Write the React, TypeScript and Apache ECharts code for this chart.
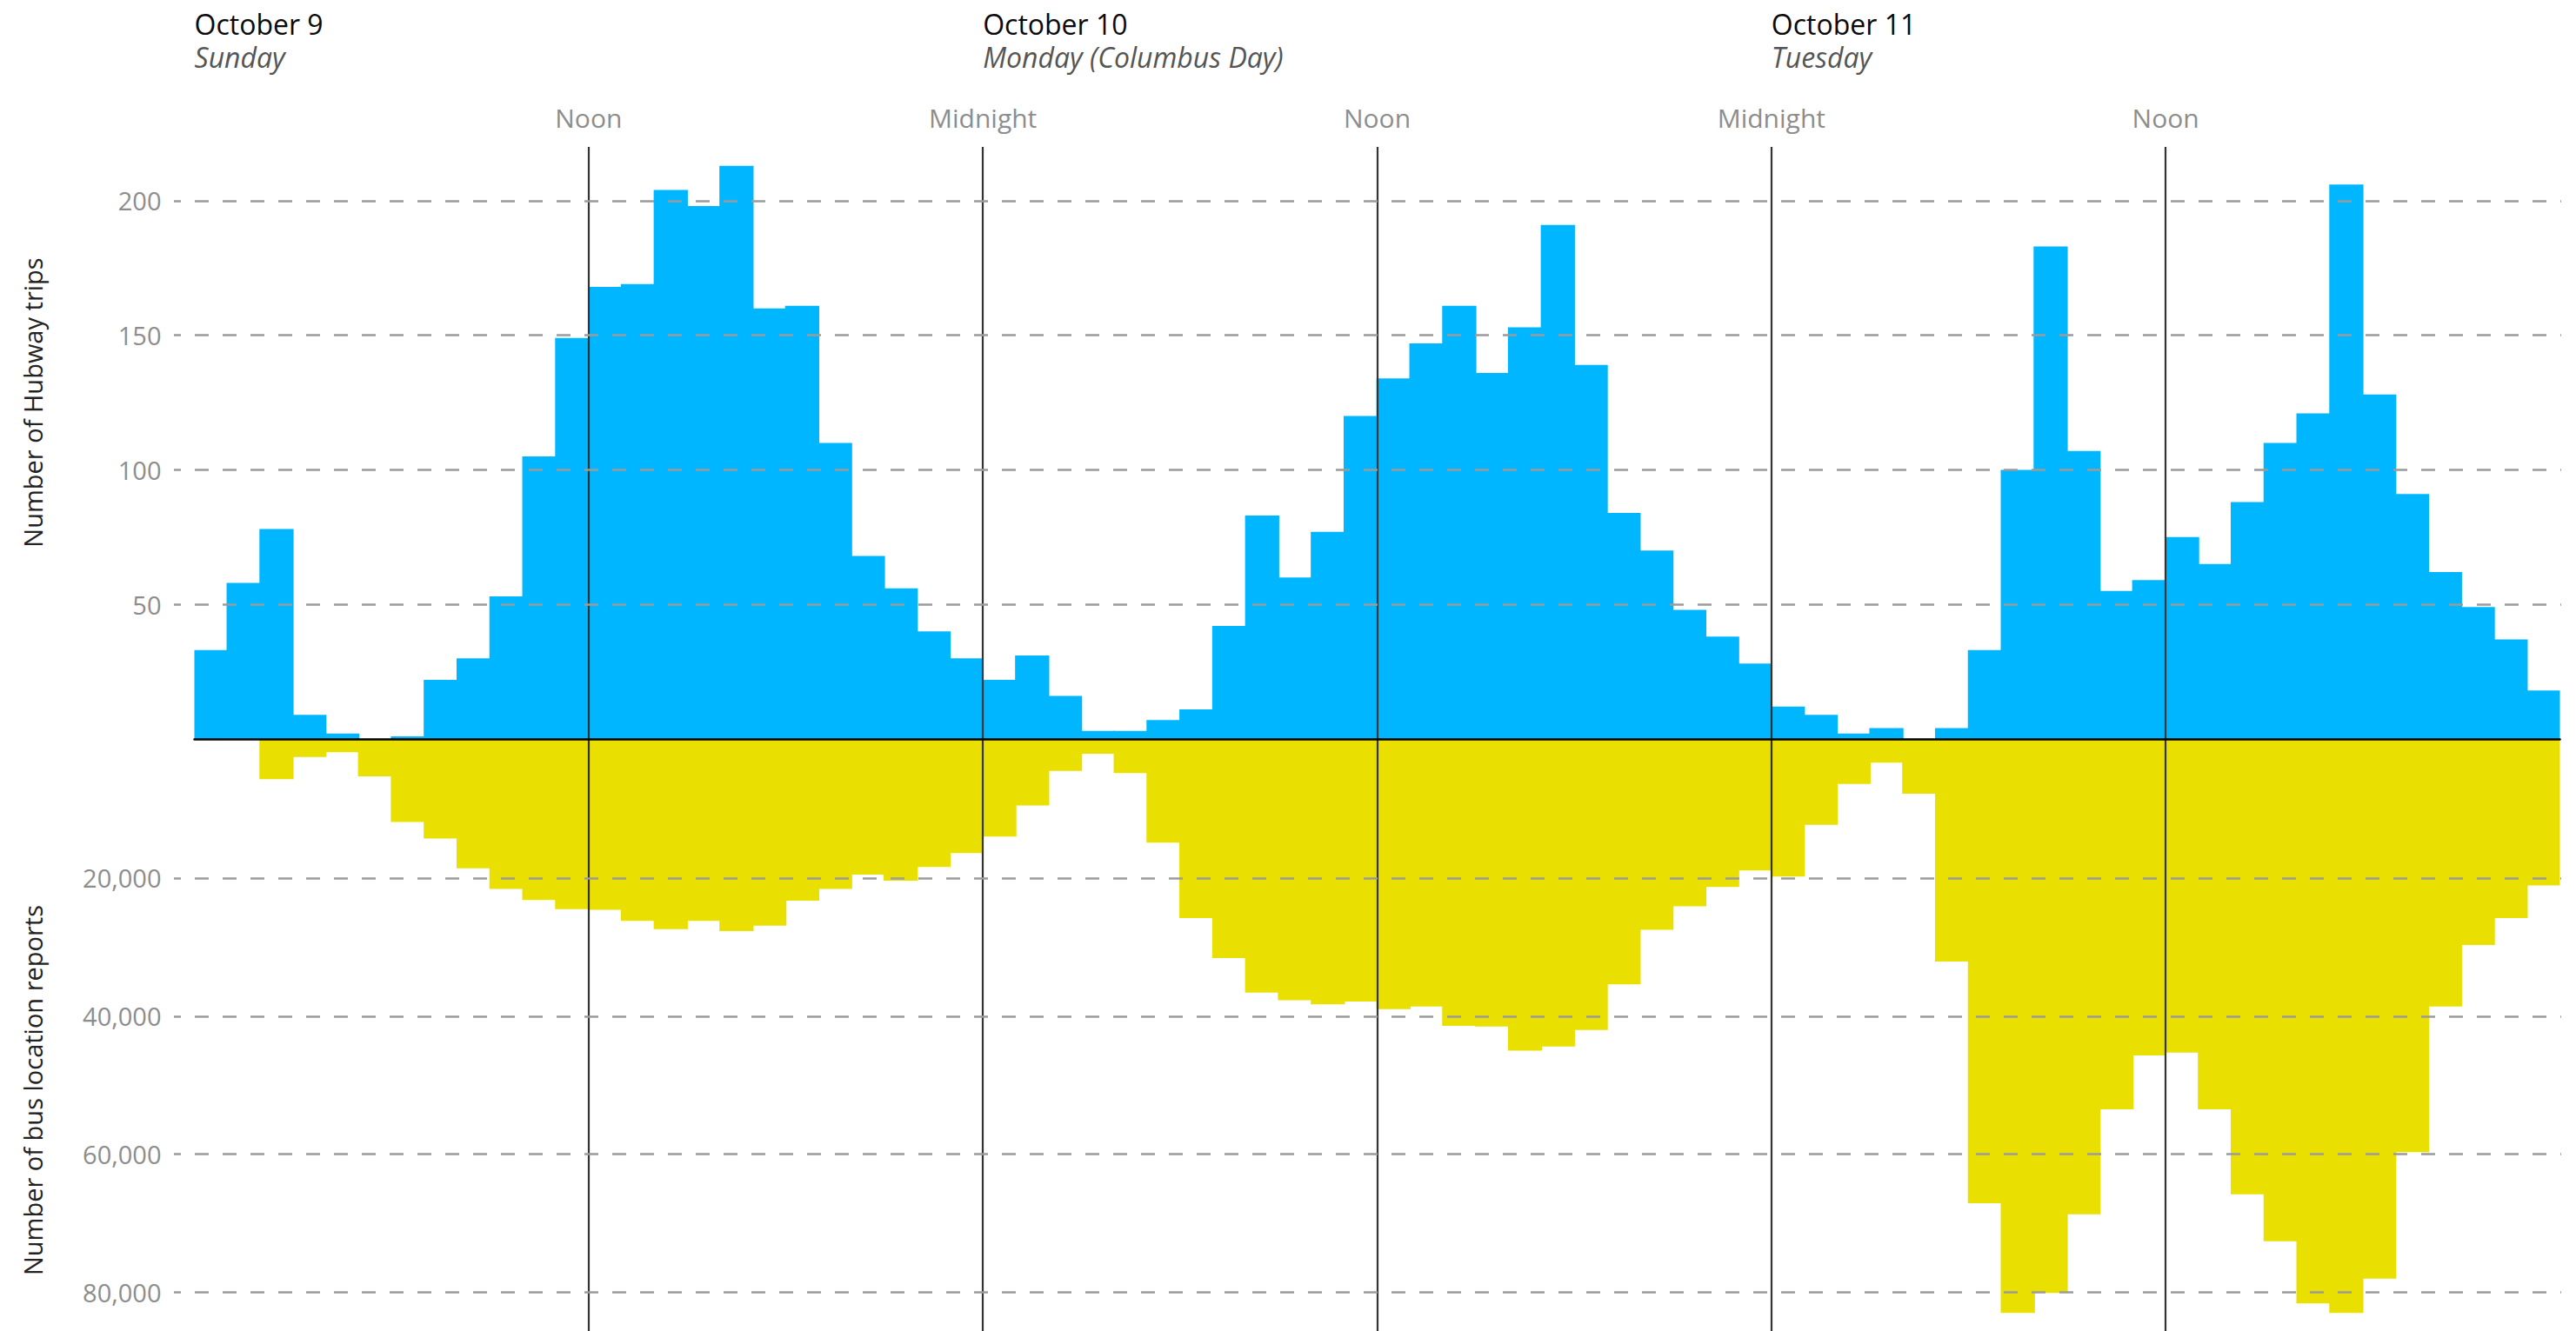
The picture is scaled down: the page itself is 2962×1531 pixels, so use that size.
import React, { useEffect, useRef } from 'react';
import * as echarts from 'echarts';

// ---------- data ----------
const days = ['October 9', 'October 10', 'October 11'];
const dayNotes = ['Sunday', 'Monday (Columbus Day)', 'Tuesday'];
const timeLabels = ['', 'Noon', 'Midnight', 'Noon', 'Midnight', 'Noon', ''];
const hours = days.flatMap((d) => Array.from({ length: 24 }, (_, h) => `${d} ${h}:00`));

const hubwayTrips = [
  33, 58, 78, 9, 2, 0, 1, 22, 30, 53, 105, 149, 168, 169, 204, 198, 213, 160, 161, 110, 68, 56, 40, 30,
  22, 31, 16, 3, 3, 7, 11, 42, 83, 60, 77, 120, 134, 147, 161, 136, 153, 191, 139, 84, 70, 48, 38, 28,
  12, 9, 2, 4, 0, 4, 33, 100, 183, 107, 55, 59, 75, 65, 88, 110, 121, 206, 128, 91, 62, 49, 37, 18,
];

const busReports = [
  0, 0, 5700, 2500, 1800, 5300, 11900, 14300, 18600, 21600, 23200, 24500, 24600, 26200, 27400, 26200, 27700, 26900, 23300, 21600, 19500, 20400, 18400, 16400,
  14000, 9500, 4500, 2000, 4800, 14900, 25800, 31600, 36600, 37700, 38300, 37900, 39000, 38600, 41400, 41500, 45000, 44400, 42000, 35400, 27500, 24100, 21300, 18900,
  19800, 12300, 6400, 3300, 7800, 32100, 67100, 83000, 80100, 68700, 53500, 45700, 45300, 53500, 65800, 72600, 81600, 83000, 78000, 59700, 38600, 29700, 25800, 21100,
];

const hubwayTicks = [50, 100, 150, 200];
const busTicks = [20000, 40000, 60000, 80000];

// ---------- styles ----------
const FONT = 'Open Sans';
const BLUE = '#00b6ff';
const YELLOW = '#e9df00';
const GREY_LABEL = '#8d8d8d';
const L = 223.5;
const GW = 2720;

const dashStyle = { type: [16, 16], dashOffset: 8, color: '#9b9b9b', width: 2.5 };
const gridLines = (ticks: number[]) => ({
  silent: true,
  symbol: ['none', 'none'],
  label: { show: false },
  emphasis: { disabled: true },
  lineStyle: dashStyle,
  data: ticks.map((v) => [{ x: 200, yAxis: v }, { x: 2945, yAxis: v }]),
});

const vLine = {
  show: true,
  showMinLine: false,
  showMaxLine: false,
  lineStyle: { color: '#333333', width: 2.2, type: 'solid' },
};

const hidden = {
  axisLine: { show: false },
  axisTick: { show: false },
};

export default function App() {
  const ref = useRef<HTMLDivElement>(null);
  useEffect(() => {
    if (!ref.current) return;
    const chart = echarts.init(ref.current, null, { renderer: 'svg' });
    const option: any = {
      animation: false,
      backgroundColor: '#ffffff',
      textStyle: { fontFamily: FONT },
      grid: [
        { left: L, width: GW, top: 169, height: 681, outerBoundsMode: 'none', containLabel: false },
        { left: L, width: GW, top: 851, height: 680, outerBoundsMode: 'none', containLabel: false },
      ],
      xAxis: [
        {
          type: 'category', gridIndex: 0, data: hours, boundaryGap: true, z: 4,
          axisLine: { show: true, onZero: false, lineStyle: { color: '#000', width: 2.5 } },
          axisTick: { show: false }, axisLabel: { show: false }, splitLine: { show: false },
        },
        {
          type: 'value', gridIndex: 0, position: 'top', min: 0, max: 72, interval: 12, z: 3,
          ...hidden,
          splitLine: vLine,
          axisLabel: {
            formatter: (v: number) => timeLabels[Math.round(v / 12)] ?? '',
            color: GREY_LABEL, fontSize: 30, fontFamily: FONT, margin: 34, verticalAlign: 'middle',
            showMinLabel: true, showMaxLabel: true,
          },
        },
        {
          type: 'value', gridIndex: 0, position: 'top', min: 0, max: 72, interval: 24,
          ...hidden,
          splitLine: { show: false },
          axisLabel: {
            formatter: (v: number) => {
              const i = Math.round(v / 24);
              return i < days.length ? `{d|${days[i]}}\n{n|${dayNotes[i]}}` : '';
            },
            align: 'left', verticalAlign: 'middle', margin: 123,
            showMinLabel: true, showMaxLabel: true,
            rich: {
              d: { fontSize: 32, color: '#0a0a0a', lineHeight: 38, fontFamily: FONT },
              n: { fontSize: 32, color: '#555', fontStyle: 'italic', lineHeight: 38, fontFamily: FONT },
            },
          },
        },
        {
          type: 'category', gridIndex: 1, data: hours, boundaryGap: true,
          ...hidden, axisLabel: { show: false }, splitLine: { show: false },
        },
        {
          type: 'value', gridIndex: 1, position: 'bottom', min: 0, max: 72, interval: 12, z: 3,
          ...hidden, axisLabel: { show: false },
          splitLine: vLine,
        },
      ],
      yAxis: [
        {
          type: 'value', gridIndex: 0, min: 0, max: 220, interval: 50,
          ...hidden, splitLine: { show: false },
          axisLabel: {
            formatter: (v: number) => (hubwayTicks.includes(v) ? String(v) : ''),
            color: GREY_LABEL, fontSize: 29, fontFamily: FONT, margin: 38,
          },
        },
        {
          type: 'value', gridIndex: 1, inverse: true, min: 0, max: 85600, interval: 20000,
          ...hidden, splitLine: { show: false },
          axisLabel: {
            formatter: (v: number) => (busTicks.includes(v) ? v.toLocaleString('en-US') : ''),
            color: GREY_LABEL, fontSize: 29, fontFamily: FONT, margin: 38,
          },
        },
      ],
      series: [
        {
          name: 'Hubway trips', type: 'bar', xAxisIndex: 0, yAxisIndex: 0, data: hubwayTrips,
          barWidth: '104%',
          itemStyle: { color: BLUE, borderWidth: 0 },
          emphasis: { disabled: true },
          markLine: gridLines(hubwayTicks),
        },
        {
          name: 'Bus location reports', type: 'bar', xAxisIndex: 3, yAxisIndex: 1, data: busReports,
          barWidth: '104%',
          itemStyle: { color: YELLOW, borderWidth: 0 },
          emphasis: { disabled: true },
          markLine: gridLines(busTicks),
        },
      ],
      graphic: [
        {
          type: 'text', x: 37.5, y: 463, rotation: Math.PI / 2,
          style: { text: 'Number of Hubway trips', fill: '#222', fontSize: 29, fontFamily: FONT, align: 'center', verticalAlign: 'middle' },
        },
        {
          type: 'text', x: 37.5, y: 1254, rotation: Math.PI / 2,
          style: { text: 'Number of bus location reports', fill: '#222', fontSize: 29, fontFamily: FONT, align: 'center', verticalAlign: 'middle' },
        },
      ],
    };
    chart.setOption(option);
    return () => chart.dispose();
  }, []);
  return (
    <div
      ref={ref}
      style={{ position: 'absolute', left: 0, top: 0, width: 2962, height: 1531, background: '#fff' }}
    />
  );
}
